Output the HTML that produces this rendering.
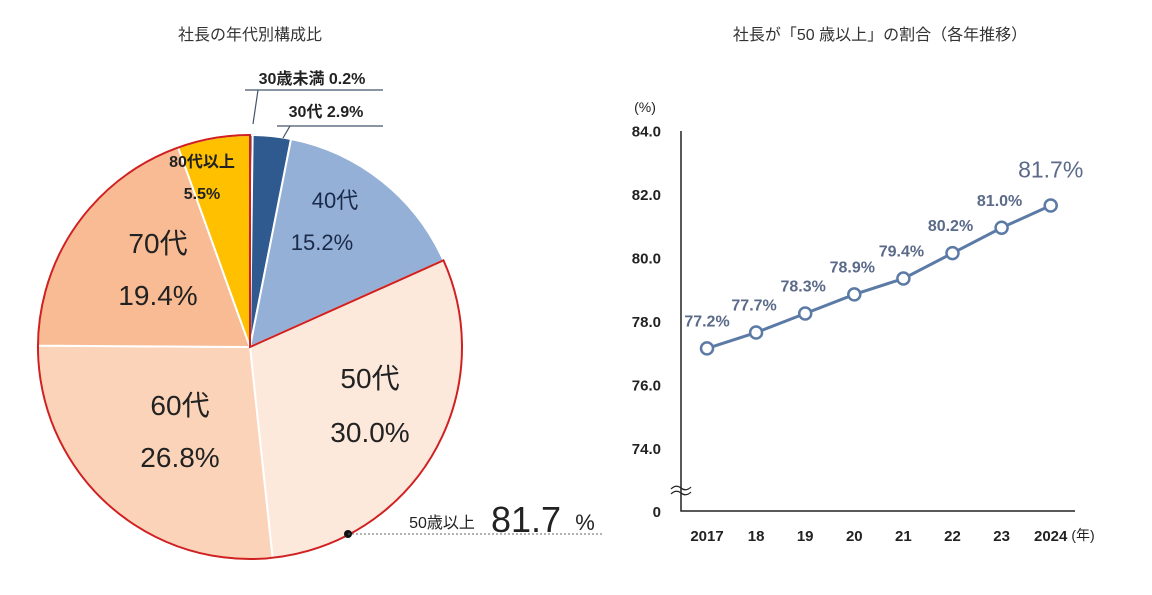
<!DOCTYPE html>
<html><head><meta charset="utf-8"><style>
body{margin:0;background:#fff;width:1152px;height:590px;overflow:hidden}
svg text{font-family:"Liberation Sans","Noto Sans CJK JP",sans-serif}
</style></head><body>
<svg id="s" width="1152" height="590">
<text x="250" y="40" text-anchor="middle" font-size="16" fill="#333">社長の年代別構成比</text>
<text x="880" y="40" text-anchor="middle" font-size="16" fill="#333">社長が「50 歳以上」の割合（各年推移）</text>
<g id="pie"></g>
<g id="line"></g>
</svg>
<script>
const pieCats=["30歳未満","30代","40代","50代","60代","70代","80代以上"];
const pieVals=[0.2,2.9,15.2,30.0,26.8,19.4,5.5];
const years=["2017","18","19","20","21","22","23","2024"];
const rates=[77.2,77.7,78.3,78.9,79.4,80.2,81.0,81.7];
const yTicks=[74,76,78,80,82,84];
const NS="http://www.w3.org/2000/svg";
function mk(p,t,a){const e=document.createElementNS(NS,t);for(const k in a)e.setAttribute(k,a[k]);p.appendChild(e);return e;}
const pie=document.getElementById('pie');
const cx=250,cy=347,R=212;
const cols=["#1f3d6b","#2f5a8f","#95b0d6","#fde8dc","#fbd3b8","#f8bb93","#ffc000"];
const tot=pieVals.reduce((a,b)=>a+b,0);
function pt(f,r){const a=f*2*Math.PI;return [cx+r*Math.sin(a),cy-r*Math.cos(a)];}
let c=0;const starts=[];
pieVals.forEach((v,i)=>{const f0=c/tot,f1=(c+v)/tot;starts.push([f0,f1]);c+=v;
 const [x0,y0]=pt(f0,R),[x1,y1]=pt(f1,R);
 const p=mk(pie,'path',{d:`M${cx},${cy}L${x0},${y0}A${R},${R} 0 ${f1-f0>0.5?1:0} 1 ${x1},${y1}Z`,fill:cols[i],stroke:'#fff','stroke-width':2});
 
 
});
{const f0=starts[3][0];const [x0,y0]=pt(f0,R);const [x1,y1]=pt(1,R);
 const o=mk(pie,'path',{d:`M${cx},${cy}L${x0},${y0}A${R},${R} 0 1 1 ${x1},${y1}Z`,fill:'none',stroke:'#d02020','stroke-width':2});
 
 }
function lab(x,y,t,s,n,col,w){const e=mk(pie,'text',{x:x,y:y,'font-size':s,'text-anchor':'middle',fill:col||'#222','font-weight':w||'normal'});e.textContent=t;
 
 }
lab(335,208,pieCats[2],22,'label-40s-name','#1a2a4a');lab(322,250,pieVals[2].toFixed(1)+'%',22,'label-40s-value','#1a2a4a');
lab(370,388,pieCats[3],28,'label-50s-name');lab(370,442,pieVals[3].toFixed(1)+'%',28,'label-50s-value');
lab(180,415,pieCats[4],28,'label-60s-name');lab(180,467,pieVals[4].toFixed(1)+'%',28,'label-60s-value');
lab(158,253,pieCats[5],28,'label-70s-name');lab(158,305,pieVals[5].toFixed(1)+'%',28,'label-70s-value');
lab(202,167,pieCats[6],16,'label-80s-name','#222','bold');lab(202,199,pieVals[6].toFixed(1)+'%',16,'label-80s-value','#222','bold');
lab(312,84,pieCats[0]+' '+pieVals[0].toFixed(1)+'%',16,'label-under30','#222','bold');
lab(326,117,pieCats[1]+' '+pieVals[1].toFixed(1)+'%',16,'label-30s','#222','bold');
mk(pie,'path',{d:'M245,90H383M258,90L253,124M277,126H383M290,126L283,138',stroke:'#44546a',fill:'none','stroke-width':1.2});
mk(pie,'circle',{cx:348,cy:534,r:4,fill:'#111'});
mk(pie,'line',{x1:348,y1:534,x2:602,y2:534,stroke:'#666','stroke-dasharray':'2,2'});
lab(442,528,'50歳以上',16,'over50-label');
lab(526,532,'81.7',36,'over50-value');
lab(585,530,'%',22,'over50-pct');
const L=document.getElementById('line');
const X0=707,DX=49.1;const xs=i=>X0+i*DX;const ys=v=>450-(v-74)*31.75;
mk(L,'path',{d:'M681,131V511H1075',stroke:'#222',fill:'none','stroke-width':1.5});
mk(L,'path',{d:'M671,489q5,-5 10,-1t10,-1M671,494q5,-5 10,-1t10,-1',stroke:'#222',fill:'#fff','stroke-width':1.2});
function t(x,y,s,a,n,sz,col,w){const e=mk(L,'text',{x:x,y:y,'text-anchor':a,'font-size':sz,fill:col||'#222','font-weight':w||'bold'});e.textContent=s;
 
 }
yTicks.forEach(v=>t(661,448-(v-74)*31.75+6,v.toFixed(1),'end','y-tick-'+v,15));
t(661,517,'0','end','y-tick-0',15);
t(645,112,'(%)','middle','y-unit',14,'#222','normal');
years.forEach((y,i)=>t(xs(i),541,y,'middle','x-tick-'+y,15));
t(1083,540,'(年)','middle','x-unit',14,'#222','normal');
mk(L,'polyline',{points:rates.map((v,i)=>xs(i)+','+ys(v)).join(' '),fill:'none',stroke:'#5b7ba6','stroke-width':3});
rates.forEach((v,i)=>{const p=mk(L,'circle',{cx:xs(i),cy:ys(v),r:6,fill:'#fff',stroke:'#5b7ba6','stroke-width':2.5});
 
 
 const last=i===rates.length-1;
 t(xs(i)+(i===0?0:-2)-(last?-2:0),ys(v)-(last?28:22),v.toFixed(1)+'%','middle','value-'+years[i],last?23:16,'#5a6a88',last?'normal':'bold');});
</script>
</body></html>
